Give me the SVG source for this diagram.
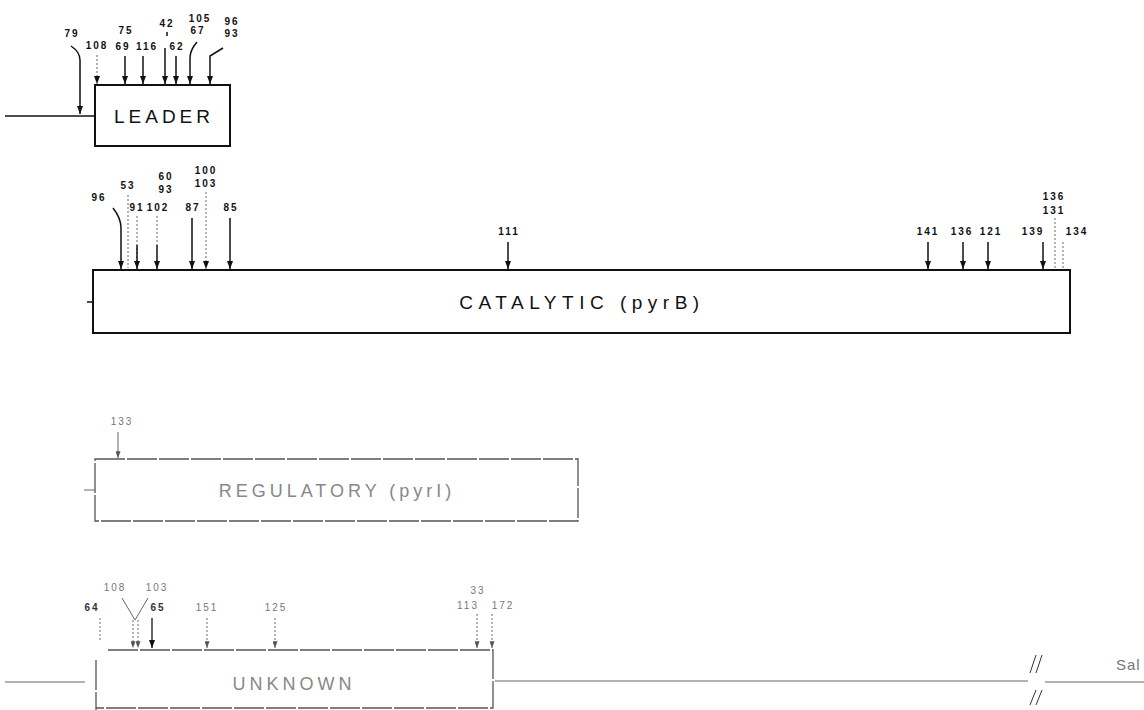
<svg xmlns="http://www.w3.org/2000/svg" width="1144" height="710" viewBox="0 0 1144 710">
<defs>
<marker id="ah" viewBox="0 0 8 6" refX="8" refY="3" markerWidth="8" markerHeight="6" markerUnits="userSpaceOnUse" orient="auto"><path d="M0,0 L8,3 L0,6 z" fill="#111"/></marker>
<marker id="ahg" viewBox="0 0 8 6" refX="8" refY="3" markerWidth="7" markerHeight="5" markerUnits="userSpaceOnUse" orient="auto"><path d="M0,0 L8,3 L0,6 z" fill="#555"/></marker>
<style>
.bx{fill:none;stroke:#111;stroke-width:2}
.bxg{fill:none;stroke:#555;stroke-width:1.3;stroke-dasharray:30,2}
.ln{fill:none;stroke:#111;stroke-width:1.5}
.lng{fill:none;stroke:#666;stroke-width:1}
.dt{fill:none;stroke:#666;stroke-width:1;stroke-dasharray:2,2}
.a{marker-end:url(#ah)}
.ag{marker-end:url(#ahg)}
.n{font-family:"Liberation Sans",Arial,sans-serif;font-size:10px;font-weight:bold;fill:#111;letter-spacing:2px;text-anchor:middle}
.ng{font-family:"Liberation Sans",Arial,sans-serif;font-size:10px;fill:#777;letter-spacing:2px;text-anchor:middle}
.big{font-family:"Liberation Sans",Arial,sans-serif;font-size:19px;fill:#111;letter-spacing:4px;text-anchor:middle}
.bigg{font-family:"Liberation Sans",Arial,sans-serif;font-size:18px;fill:#888;letter-spacing:4px;text-anchor:middle}
</style>
</defs>
<rect width="1144" height="710" fill="#fff"/>

<g id="leader">
<rect class="bx" x="95" y="85" width="135" height="61"/>
<text class="big" x="164" y="123">LEADER</text>
<text class="n" x="72" y="37">79</text>
<text class="n" x="97" y="49">108</text>
<text class="n" x="126" y="34">75</text>
<text class="n" x="123" y="50">69</text>
<text class="n" x="147" y="50">116</text>
<text class="n" x="167" y="27">42</text>
<text class="n" x="177" y="50">62</text>
<text class="n" x="200" y="22">105</text>
<text class="n" x="198" y="34">67</text>
<text class="n" x="232" y="25">96</text>
<text class="n" x="232" y="37">93</text>
</g>

<g id="catalytic">
<rect class="bx" x="93" y="270" width="977" height="63"/>
<text class="big" x="582" y="309" style="letter-spacing:5.5px">CATALYTIC (pyrB)</text>
<text class="n" x="99" y="201">96</text>
<text class="n" x="128" y="189">53</text>
<text class="n" x="166" y="180">60</text>
<text class="n" x="166" y="193">93</text>
<text class="n" x="206" y="174">100</text>
<text class="n" x="206" y="187">103</text>
<text class="n" x="137" y="211">91</text>
<text class="n" x="158" y="211">102</text>
<text class="n" x="193" y="211">87</text>
<text class="n" x="231" y="211">85</text>
<text class="n" x="509" y="235">111</text>
<text class="n" x="928" y="235">141</text>
<text class="n" x="962" y="235">136</text>
<text class="n" x="991" y="235">121</text>
<text class="n" x="1033" y="235">139</text>
<text class="n" x="1054" y="200">136</text>
<text class="n" x="1054" y="214">131</text>
<text class="n" x="1077" y="235">134</text>
</g>

<g id="regulatory">
<rect class="bxg" x="95" y="459" width="483" height="62"/>
<text class="bigg" x="337" y="497">REGULATORY (pyrI)</text>
<text class="ng" x="122" y="425">133</text>
</g>

<g id="unknown">
<path class="bxg" d="M96,660 V710 M108,650 H493 V708 H96"/>
<text class="bigg" x="294" y="690">UNKNOWN</text>
<text class="ng" x="115" y="591">108</text>
<text class="ng" x="157" y="591">103</text>
<text class="n" x="92" y="611" style="fill:#333">64</text>
<text class="n" x="158" y="611" style="fill:#333">65</text>
<text class="ng" x="207" y="611">151</text>
<text class="ng" x="276" y="611">125</text>
<text class="ng" x="478" y="594">33</text>
<text class="ng" x="468" y="609">113</text>
<text class="ng" x="503" y="609">172</text>
<text class="ng" x="1116" y="670" style="font-size:15px;text-anchor:start;letter-spacing:1px">Sal</text>
</g>

<g id="connectors">
<!-- leader -->
<path class="ln" d="M5,116 H95"/>
<path class="ln a" d="M71,46 Q80,52 80,60 V114"/>
<path class="dt a" d="M97,55 V84"/>
<path class="ln a" d="M125,56 V84"/>
<path class="ln a" d="M143,56 V84"/>
<path class="ln" d="M167,32 V36"/>
<path class="ln a" d="M165,48 V84"/>
<path class="ln a" d="M176,56 V84"/>
<path class="ln a" d="M197,42 Q190,50 190,58 V84"/>
<path class="ln a" d="M223,48 L210,56 V84"/>
<!-- catalytic -->
<path class="ln" d="M87,302 H93"/>
<path class="ln a" d="M113,208 Q121,218 121,228 V269"/>
<path class="dt" d="M128,195 V268"/>
<path class="dt" d="M137,216 V268"/>
<path class="ln a" d="M137,245 V269"/>
<path class="dt" d="M157,216 V245"/>
<path class="ln a" d="M157,245 V269"/>
<path class="ln a" d="M192,218 V269"/>
<path class="dt a" d="M206,192 V269"/>
<path class="ln a" d="M230,218 V269"/>
<path class="ln a" d="M508,242 V269"/>
<path class="ln a" d="M928,242 V269"/>
<path class="ln a" d="M963,242 V269"/>
<path class="ln a" d="M988,242 V269"/>
<path class="ln a" d="M1043,242 V269"/>
<path class="dt" d="M1055,218 V269"/>
<path class="dt" d="M1063,242 V269"/>
<!-- regulatory -->
<path class="lng" d="M84,490 H95"/>
<path class="lng ag" d="M118,432 V458"/>
<!-- unknown -->
<path class="lng" d="M5,682 H85"/>
<path class="lng" d="M495,681 H1028 M1045,682 H1144"/>
<path class="lng" d="M1030,673 L1036,655 M1036,673 L1042,655" style="stroke:#333"/>
<path class="lng" d="M1030,705 L1036,690 M1036,705 L1042,690" style="stroke:#333"/>
<path class="dt" d="M100,618 V640"/>
<path class="lng" d="M122,598 L135,620 L148,598"/>
<path class="dt ag" d="M133,620 V648"/>
<path class="dt ag" d="M138,620 V648"/>
<path class="ln a" d="M152,618 V648" style="stroke:#333"/>
<path class="dt ag" d="M207,618 V648"/>
<path class="dt ag" d="M275,618 V648"/>
<path class="dt ag" d="M477,614 V648"/>
<path class="dt ag" d="M492,614 V648"/>
</g>
</svg>
